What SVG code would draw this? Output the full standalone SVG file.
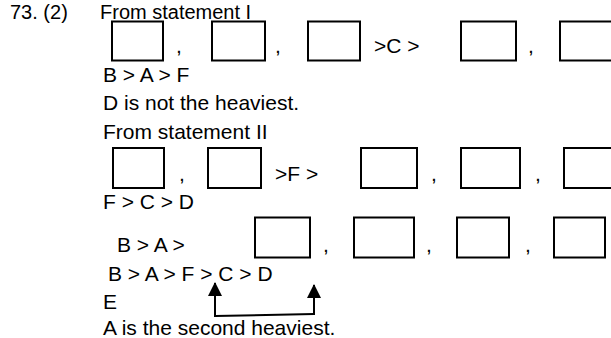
<svg xmlns="http://www.w3.org/2000/svg" width="611" height="338" viewBox="0 0 611 338">
  <style>
    text { font-family: "Liberation Sans", Arial, sans-serif; font-size: 21px; fill: #000; }
    .top { font-size: 20px; }
    .box { fill: #fff; stroke: #000; stroke-width: 2; }
    .link { stroke: #000; stroke-width: 2; fill: none; }
  </style>
  <defs>
    <marker id="head" viewBox="0 0 14 14" refX="13" refY="7" markerWidth="14" markerHeight="14" markerUnits="userSpaceOnUse" orient="auto">
      <path d="M0,0 L14,7 L0,14 Z" fill="#000"/>
    </marker>
  </defs>
  <rect width="611" height="338" fill="#fff"/>

  <!-- heading -->
  <g id="heading">
    <text class="top" x="10" y="18.5">73. (2)</text>
    <text class="top" x="100" y="18.5">From statement I</text>
  </g>

  <!-- statement I: ordering row -->
  <g id="row1">
    <rect class="box" x="112" y="21.5" width="51" height="39"/>
    <text x="176" y="53">,</text>
    <rect class="box" x="212" y="21.5" width="53" height="39"/>
    <text x="275" y="53">,</text>
    <rect class="box" x="308" y="21.5" width="52" height="39"/>
    <text x="374" y="53">&gt;C &gt;</text>
    <rect class="box" x="461" y="21.5" width="55" height="39"/>
    <text x="528" y="53">,</text>
    <rect class="box" x="560" y="21.5" width="60" height="39"/>
  </g>

  <g id="statement1">
    <text x="103" y="82">B &gt; A &gt; F</text>
    <text x="103" y="110">D is not the heaviest.</text>
    <text x="103" y="139">From statement II</text>
  </g>

  <!-- statement II: ordering row -->
  <g id="row2">
    <rect class="box" x="113" y="148" width="51" height="40"/>
    <text x="179" y="181">,</text>
    <rect class="box" x="208" y="148" width="53" height="40"/>
    <text x="275" y="181">&gt;F &gt;</text>
    <rect class="box" x="361" y="148" width="56" height="40"/>
    <text x="431" y="181">,</text>
    <rect class="box" x="461" y="148" width="59" height="40"/>
    <text x="535" y="181">,</text>
    <rect class="box" x="564" y="148" width="60" height="40"/>
  </g>

  <g id="statement2">
    <text x="103" y="209">F &gt; C &gt; D</text>
  </g>

  <!-- combined ordering row -->
  <g id="row3">
    <text x="117" y="252">B &gt; A &gt;</text>
    <rect class="box" x="255" y="217.5" width="55" height="40"/>
    <text x="323" y="252">,</text>
    <rect class="box" x="354" y="217.5" width="60" height="40"/>
    <text x="426" y="252">,</text>
    <rect class="box" x="457" y="217.5" width="52" height="40"/>
    <text x="525" y="252">,</text>
    <rect class="box" x="554" y="217.5" width="51" height="40"/>
  </g>

  <g id="result">
    <text x="108" y="281">B &gt; A &gt; F &gt; C &gt; D</text>
    <text x="103" y="309">E</text>
    <text x="103" y="335">A is the second heaviest.</text>
  </g>

  <!-- E can sit anywhere from C's place to the end -->
  <g id="connectors">
    <path class="link" d="M215,317 L215,283" marker-end="url(#head)"/>
    <path class="link" d="M314,315 L314,285" marker-end="url(#head)"/>
    <path class="link" d="M215,316 L314,314"/>
  </g>
</svg>
